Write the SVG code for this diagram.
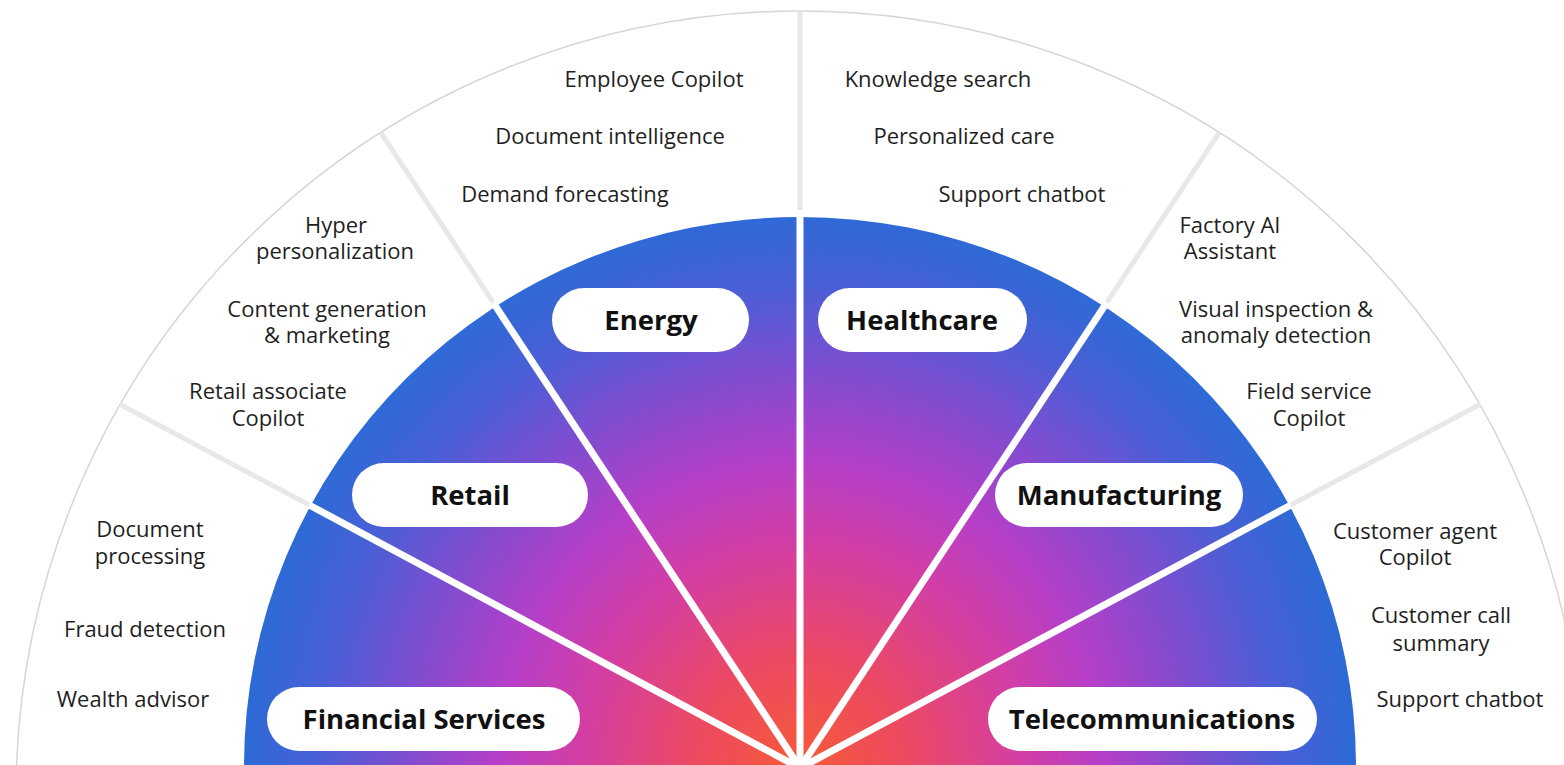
<svg xmlns="http://www.w3.org/2000/svg" width="1564" height="765" viewBox="0 0 1564 765">
<defs>
<radialGradient id="fanGrad" gradientUnits="userSpaceOnUse" cx="800" cy="766" r="552">
<stop offset="0" stop-color="#f65a36"/>
<stop offset="0.2" stop-color="#ec4963"/>
<stop offset="0.4" stop-color="#d33ea4"/>
<stop offset="0.55" stop-color="#b53fc8"/>
<stop offset="0.72" stop-color="#7e4dd0"/>
<stop offset="0.87" stop-color="#4a5fd6"/>
<stop offset="1" stop-color="#2e6ad6"/>
</radialGradient>
<style>
.lbl{font-family:"Open Sans","Noto Sans","Liberation Sans",sans-serif;font-size:22px;fill:#1f1f1f;text-anchor:middle}
.hdr{font-family:"Open Sans","Noto Sans","Liberation Sans",sans-serif;font-size:27.5px;font-weight:700;fill:#111;text-anchor:middle}
.pill{fill:#ffffff}
.sep{stroke:#e8e8e8;stroke-width:5;fill:none}
.div{stroke:#ffffff;stroke-width:7;fill:none;stroke-linecap:butt}
</style>
</defs>
<rect width="1564" height="765" fill="#ffffff"/>
<circle cx="800" cy="795" r="784" fill="none" stroke="#d6d6d6" stroke-width="1.5"/>
<g id="connectors">
<line class="sep" x1="800" y1="766" x2="120.2" y2="404.5"/>
<line class="sep" x1="800" y1="766" x2="380.8" y2="132.6"/>
<line class="sep" x1="800" y1="766" x2="800" y2="11"/>
<line class="sep" x1="800" y1="766" x2="1219.2" y2="132.6"/>
<line class="sep" x1="800" y1="766" x2="1479.8" y2="404.5"/>
</g>
<path id="fan" d="M 244 766 A 556 549 0 0 1 1356 766 Z" fill="url(#fanGrad)"/>
<g id="dividers">
<line class="div" x1="800" y1="768" x2="309.1" y2="505"/>
<line class="div" x1="800" y1="768" x2="493.1" y2="302.4"/>
<line class="div" x1="800" y1="768" x2="800" y2="210"/>
<line class="div" x1="800" y1="768" x2="1106.9" y2="302.4"/>
<line class="div" x1="800" y1="768" x2="1290.9" y2="505"/>
</g>
<g id="financial">
<rect class="pill" x="267" y="687" width="313" height="64" rx="32"/>
<text class="hdr" x="424" y="729">Financial Services</text>
<text class="lbl" x="150" y="537">Document<tspan x="150" dy="27">processing</tspan></text>
<text class="lbl" x="145" y="637">Fraud detection</text>
<text class="lbl" x="133" y="707">Wealth advisor</text>
</g>
<g id="retail">
<rect class="pill" x="352" y="463" width="236" height="64" rx="32"/>
<text class="hdr" x="470" y="505">Retail</text>
<text class="lbl" x="336" y="233">Hyper<tspan x="335" dy="26">personalization</tspan></text>
<text class="lbl" x="327" y="317">Content generation<tspan x="327" dy="26">&amp; marketing</tspan></text>
<text class="lbl" x="268" y="399">Retail associate<tspan x="268" dy="27">Copilot</tspan></text>
</g>
<g id="energy">
<rect class="pill" x="552" y="288" width="197" height="64" rx="32"/>
<text class="hdr" x="651" y="330">Energy</text>
<text class="lbl" x="654" y="87">Employee Copilot</text>
<text class="lbl" x="610" y="144">Document intelligence</text>
<text class="lbl" x="565" y="202">Demand forecasting</text>
</g>
<g id="healthcare">
<rect class="pill" x="818" y="288" width="209" height="64" rx="32"/>
<text class="hdr" x="922" y="330">Healthcare</text>
<text class="lbl" x="938" y="87">Knowledge search</text>
<text class="lbl" x="964" y="144">Personalized care</text>
<text class="lbl" x="1022" y="202">Support chatbot</text>
</g>
<g id="manufacturing">
<rect class="pill" x="995" y="463" width="248" height="64" rx="32"/>
<text class="hdr" x="1119" y="505">Manufacturing</text>
<text class="lbl" x="1230" y="233">Factory AI<tspan x="1230" dy="26">Assistant</tspan></text>
<text class="lbl" x="1276" y="317">Visual inspection &amp;<tspan x="1276" dy="26">anomaly detection</tspan></text>
<text class="lbl" x="1309" y="399">Field service<tspan x="1309" dy="27">Copilot</tspan></text>
</g>
<g id="telecommunications">
<rect class="pill" x="988" y="687" width="329" height="64" rx="32"/>
<text class="hdr" x="1152" y="729">Telecommunications</text>
<text class="lbl" x="1415" y="539">Customer agent<tspan x="1415" dy="26">Copilot</tspan></text>
<text class="lbl" x="1441" y="623">Customer call<tspan x="1441" dy="28">summary</tspan></text>
<text class="lbl" x="1460" y="707">Support chatbot</text>
</g>
</svg>
